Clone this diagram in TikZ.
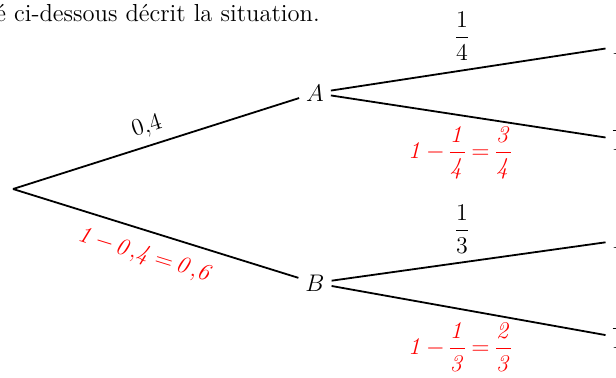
\documentclass[tikz,border=0pt]{standalone}
\usepackage{amsmath}
\begin{document}
\begin{tikzpicture}[x=0.5pt,y=-0.5pt,
  every node/.style={font=\fontsize{12.3}{15}\selectfont},
  branch/.style={line width=0.9pt},
  problbl/.style={inner sep=1pt},
  redlbl/.style={inner sep=1pt,text=red}]
\useasboundingbox (0,0) rectangle (616,377);
\node[anchor=base west,inner sep=0pt] (intro) at (-5,21) {é ci-dessous décrit la situation.};
\coordinate (R) at (13,189);
\node (A) at (315,93) {$A$};
\node (B) at (315,283) {$B$};
\node (E1) at (622,46) {$E$};
\node (F1) at (622,140) {$\overline{E}$};
\node (E2) at (622,240) {$E$};
\node (F2) at (622,338) {$\overline{E}$};
\draw[branch] (R) -- (A);
\draw[branch] (R) -- (B);
\draw[branch] (A) -- (E1);
\draw[branch] (A) -- (F1);
\draw[branch] (B) -- (E2);
\draw[branch] (B) -- (F2);
\node[problbl,rotate=17.7] (pA) at (147,127) {$0{,}4$};
\node[redlbl,rotate=-17.2] (pB) at (145,256) {$\medmuskip=2mu\thickmuskip=3mu\mathit{1-0{,}4=0{,}6}$};
\node[problbl] (pAE) at (462,36) {$\dfrac{1}{4}$};
\node[redlbl] (pAF) at (461,153) {$\medmuskip=2mu\thickmuskip=3mu\mathit{1-\dfrac{1}{4}=\dfrac{3}{4}}$};
\node[problbl] (pBE) at (462,229) {$\dfrac{1}{3}$};
\node[redlbl] (pBF) at (461,347) {$\medmuskip=2mu\thickmuskip=3mu\mathit{1-\dfrac{1}{3}=\dfrac{2}{3}}$};
\end{tikzpicture}
\end{document}
